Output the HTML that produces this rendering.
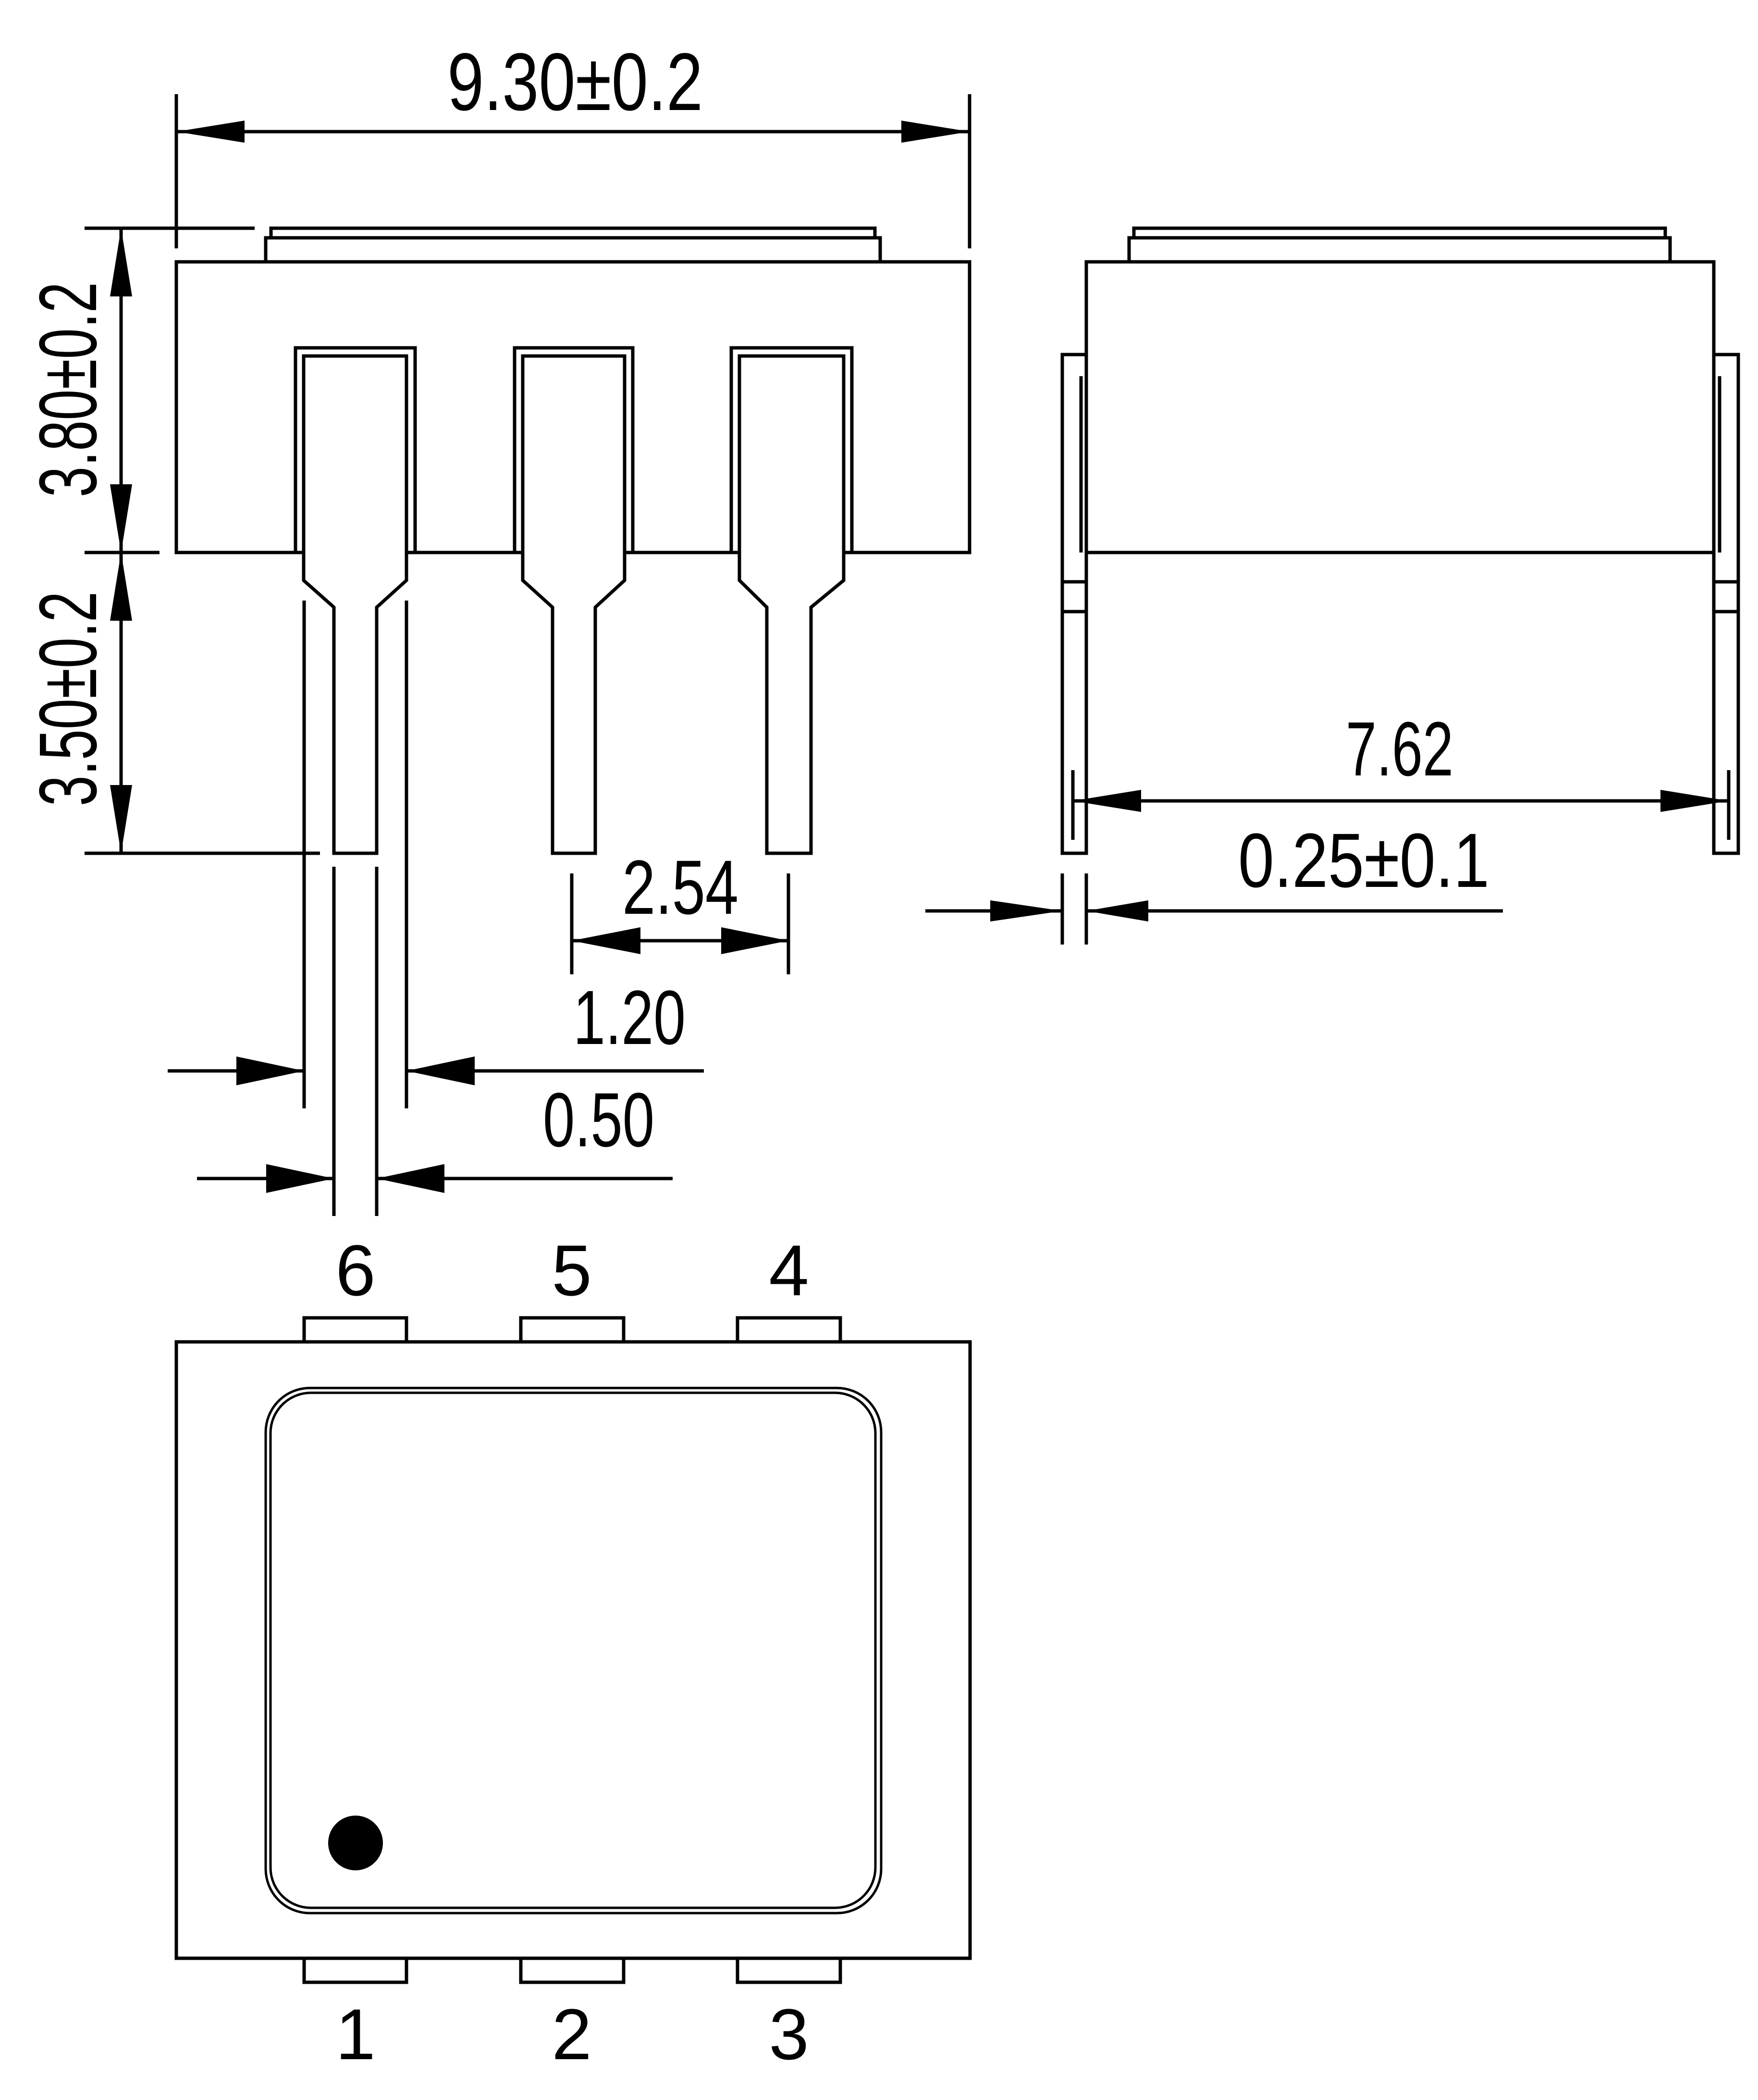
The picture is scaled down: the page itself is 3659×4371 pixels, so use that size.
<!DOCTYPE html>
<html><head><meta charset="utf-8"><style>
html,body{margin:0;padding:0;background:#fff;}
svg{display:block;}
text{font-family:"Liberation Sans",sans-serif;fill:#000;}
</style></head><body>
<svg width="3659" height="4371" viewBox="0 0 3659 4371" xmlns="http://www.w3.org/2000/svg">
<g fill="none" stroke="#000" stroke-width="7" stroke-linejoin="miter">
<rect x="367" y="545" width="1651" height="605" fill="#fff"/>
<rect x="553" y="495" width="1279" height="50"/>
<rect x="564" y="475" width="1257" height="20"/>
<polyline points="615,1150 615,724 864,724 864,1150"/>
<polygon points="632,741 846,741 846,1208 784,1264 784,1776 695,1776 695,1264 632,1208" fill="#fff"/>
<polyline points="1071,1150 1071,724 1317,724 1317,1150"/>
<polygon points="1088,741 1300,741 1300,1208 1239,1264 1239,1776 1150,1776 1150,1264 1088,1208" fill="#fff"/>
<polyline points="1522,1150 1522,724 1773,724 1773,1150"/>
<polygon points="1539,741 1756,741 1756,1208 1688,1264 1688,1776 1596,1776 1596,1264 1539,1208" fill="#fff"/>
<line x1="367" y1="196" x2="367" y2="517"/>
<line x1="2018" y1="196" x2="2018" y2="517"/>
<line x1="367" y1="274" x2="2018" y2="274"/>
<line x1="176" y1="475" x2="530" y2="475"/>
<line x1="176" y1="1150" x2="332" y2="1150"/>
<line x1="176" y1="1776" x2="666" y2="1776"/>
<line x1="252" y1="475" x2="252" y2="1776"/>
<line x1="633" y1="1250" x2="633" y2="2307"/>
<line x1="846" y1="1250" x2="846" y2="2307"/>
<line x1="695" y1="1804" x2="695" y2="2531"/>
<line x1="784" y1="1804" x2="784" y2="2531"/>
<line x1="349" y1="2229" x2="633" y2="2229"/>
<line x1="846" y1="2229" x2="1465" y2="2229"/>
<line x1="410" y1="2453" x2="695" y2="2453"/>
<line x1="784" y1="2453" x2="1400" y2="2453"/>
<line x1="1190" y1="1818" x2="1190" y2="2028"/>
<line x1="1641" y1="1818" x2="1641" y2="2028"/>
<line x1="1190" y1="1958" x2="1641" y2="1958"/>
<g transform="translate(-10,0)">
<rect x="2271" y="545" width="1306" height="605" fill="#fff"/>
<rect x="2360" y="495" width="1126" height="50"/>
<rect x="2370" y="475" width="1106" height="20"/>
<rect x="2221" y="738" width="50" height="1038"/>
<rect x="3577" y="738" width="51" height="1038"/>
<line x1="2260" y1="783" x2="2260" y2="1150"/>
<line x1="3589" y1="783" x2="3589" y2="1150"/>
<line x1="2221" y1="1211" x2="2271" y2="1211"/>
<line x1="2221" y1="1273" x2="2271" y2="1273"/>
<line x1="3577" y1="1211" x2="3628" y2="1211"/>
<line x1="3577" y1="1273" x2="3628" y2="1273"/>
<line x1="2243" y1="1603" x2="2243" y2="1748"/>
<line x1="3608" y1="1603" x2="3608" y2="1748"/>
<line x1="2243" y1="1667" x2="3608" y2="1667"/>
<line x1="2221" y1="1818" x2="2221" y2="1966"/>
<line x1="2271" y1="1818" x2="2271" y2="1966"/>
<line x1="1936" y1="1896" x2="2221" y2="1896"/>
<line x1="2271" y1="1896" x2="3138" y2="1896"/>
</g>
<rect x="633" y="2743" width="213" height="50"/>
<rect x="1084" y="2743" width="214" height="50"/>
<rect x="1535" y="2743" width="214" height="50"/>
<rect x="633" y="4076" width="213" height="50"/>
<rect x="1084" y="4076" width="214" height="50"/>
<rect x="1535" y="4076" width="214" height="50"/>
<rect x="367" y="2793" width="1652" height="1283" fill="#fff"/>
<rect x="553" y="2889" width="1281" height="1093" rx="92" ry="92" stroke-width="5"/>
<rect x="563" y="2899" width="1259" height="1072" rx="84" ry="84" stroke-width="5"/>
</g>
<g fill="#000" stroke="none">
<polygon points="367,274 509,251 509,297"/>
<polygon points="2018,274 1876,251 1876,297"/>
<polygon points="252,475 229,617 275,617"/>
<polygon points="252,1150 229,1008 275,1008"/>
<polygon points="252,1150 229,1292 275,1292"/>
<polygon points="252,1776 229,1634 275,1634"/>
<polygon points="633,2229 492,2199 492,2259"/>
<polygon points="846,2229 988,2199 988,2259"/>
<polygon points="695,2453 554,2423 554,2483"/>
<polygon points="784,2453 925,2423 925,2483"/>
<polygon points="1190,1958 1333,1930 1333,1986"/>
<polygon points="1641,1958 1501,1930 1501,1986"/>
<g transform="translate(-10,0)">
<polygon points="2243,1667 2385,1644 2385,1690"/>
<polygon points="3608,1667 3466,1644 3466,1690"/>
<polygon points="2221,1896 2071,1874 2071,1918"/>
<polygon points="2271,1896 2400,1874 2400,1918"/>
</g>
<circle cx="740" cy="3836" r="57"/>
</g>
<g font-size="170">
<text x="931" y="229" textLength="532" lengthAdjust="spacingAndGlyphs">9.30±0.2</text>
<text x="2801" y="1614" textLength="224" lengthAdjust="spacingAndGlyphs" font-size="160">7.62</text>
<text x="2577" y="1846" textLength="523" lengthAdjust="spacingAndGlyphs" font-size="160">0.25±0.1</text>
<text x="1295" y="1902" textLength="242" lengthAdjust="spacingAndGlyphs" font-size="160">2.54</text>
<text x="1193" y="2173" textLength="234" lengthAdjust="spacingAndGlyphs" font-size="160">1.20</text>
<text x="1130" y="2386" textLength="232" lengthAdjust="spacingAndGlyphs" font-size="160">0.50</text>
<text transform="translate(200,1035) rotate(-90)" textLength="448" lengthAdjust="spacingAndGlyphs" font-size="170">3.80±0.2</text>
<text transform="translate(200,1678) rotate(-90)" textLength="447" lengthAdjust="spacingAndGlyphs" font-size="170">3.50±0.2</text>
</g>
<g font-size="150" text-anchor="middle">
<text x="740" y="2696">6</text>
<text x="1190" y="2696">5</text>
<text x="1642" y="2696">4</text>
<text x="740" y="4286">1</text>
<text x="1190" y="4286">2</text>
<text x="1642" y="4286">3</text>
</g>
</svg>
</body></html>
